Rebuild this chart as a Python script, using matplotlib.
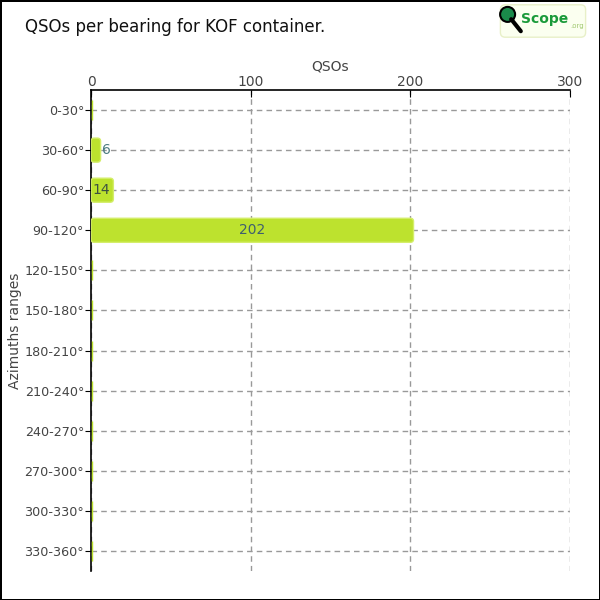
import numpy as np
import matplotlib.pyplot as plt
from matplotlib.patches import FancyBboxPatch, Circle
from matplotlib.lines import Line2D

# donnees
categories = ['0-30°', '30-60°', '60-90°', '90-120°', '120-150°', '150-180°',
              '180-210°', '210-240°', '240-270°', '270-300°', '300-330°', '330-360°']
qsos = [0, 6, 14, 202, 0, 0, 0, 0, 0, 0, 0, 0]
ticks_x = [0, 100, 200, 300]

vert = '#bde22e'
texte = '#444444'

fig = plt.figure(figsize=(6, 6), dpi=100)
fig.patch.set_edgecolor('black')
fig.patch.set_linewidth(2)
ax = fig.add_axes([0.1517, 0.0483, 0.7983, 0.8017])

y = np.arange(len(categories))
bars = ax.barh(y, qsos, height=0.6, color='none', edgecolor='none')
for b in bars:
    x0, y0 = b.get_x(), b.get_y()
    w, h = b.get_width(), b.get_height()
    if w > 0:
        r = min(2.0, w / 2)
        p = FancyBboxPatch((x0, y0), w, h, boxstyle='round,pad=0,rounding_size=%.2f' % r,
                           mutation_aspect=0.04, facecolor=vert, edgecolor='#d4ee6a',
                           linewidth=1, zorder=3)
    else:
        # barre vide : juste un trait vert contre l'axe
        p = FancyBboxPatch((x0 + 0.7, y0 + 0.05), 0, h - 0.1, boxstyle='square,pad=0',
                           facecolor=vert, edgecolor=vert, linewidth=1, zorder=3, clip_on=False)
    ax.add_patch(p)

# etiquettes des valeurs
for i, v in enumerate(qsos):
    if v == 0:
        continue
    if v < 10:
        ax.text(v + 1, i, str(v), va='center', ha='left', color='#4a7a80', fontsize=10, zorder=4)
    elif v < 50:
        ax.text(1, i, str(v), va='center', ha='left', color='#3d5040', fontsize=10, zorder=4)
    else:
        ax.text(v / 2, i, str(v), va='center', ha='center', color='#3f5f6f', fontsize=10, zorder=4)

ax.set_xlim(0, 300)
ax.set_ylim(len(categories) - 0.5, -0.5)
ax.set_yticks(y)
ax.set_yticklabels(categories, color=texte, fontsize=9.2)
ax.set_xticks(ticks_x)
ax.set_xticklabels([str(t) for t in ticks_x], color=texte, fontsize=10)
ax.xaxis.tick_top()
ax.xaxis.set_label_position('top')
ax.set_xlabel('QSOs', color=texte, fontsize=10, labelpad=3)
ax.set_ylabel('Azimuths ranges', color=texte, fontsize=10)
ax.yaxis.set_label_coords(-0.145, 0.5)
ax.tick_params(axis='y', length=4, pad=1)
ax.tick_params(axis='x', direction='in', length=5, pad=1)

for s in ['right', 'bottom']:
    ax.spines[s].set_visible(False)
ax.spines['top'].set_linewidth(1.2)
ax.spines['left'].set_linewidth(1.2)
ax.grid(True, linestyle=(0, (4, 3)), color='#999999', linewidth=1)
ax.set_axisbelow(True)

# titre
fig.text(0.042, 0.955, 'QSOs per bearing for KOF container.', fontsize=12,
         color='#111111', va='center', ha='left')

# logo QScope
logo = FancyBboxPatch((0.836, 0.94), 0.138, 0.05, boxstyle='round,pad=0.002,rounding_size=0.008',
                      transform=fig.transFigure, facecolor='#fbfff0', edgecolor='#e8f0c8', linewidth=1)
fig.patches.append(logo)
fig.lines.append(Line2D([0.852, 0.868], [0.968, 0.948], transform=fig.transFigure,
                        color='black', linewidth=3, solid_capstyle='round'))
fig.patches.append(Circle((0.846, 0.976), 0.0125, transform=fig.transFigure,
                          facecolor='#1a8a4a', edgecolor='black', linewidth=1.5))
fig.text(0.868, 0.969, 'Scope', fontsize=10, fontweight='bold', color='#1a9a3a',
         va='center', ha='left')
fig.text(0.951, 0.957, '.org', fontsize=5, color='#a0c870', va='center', ha='left')

fig.savefig('out.png', dpi=100)
